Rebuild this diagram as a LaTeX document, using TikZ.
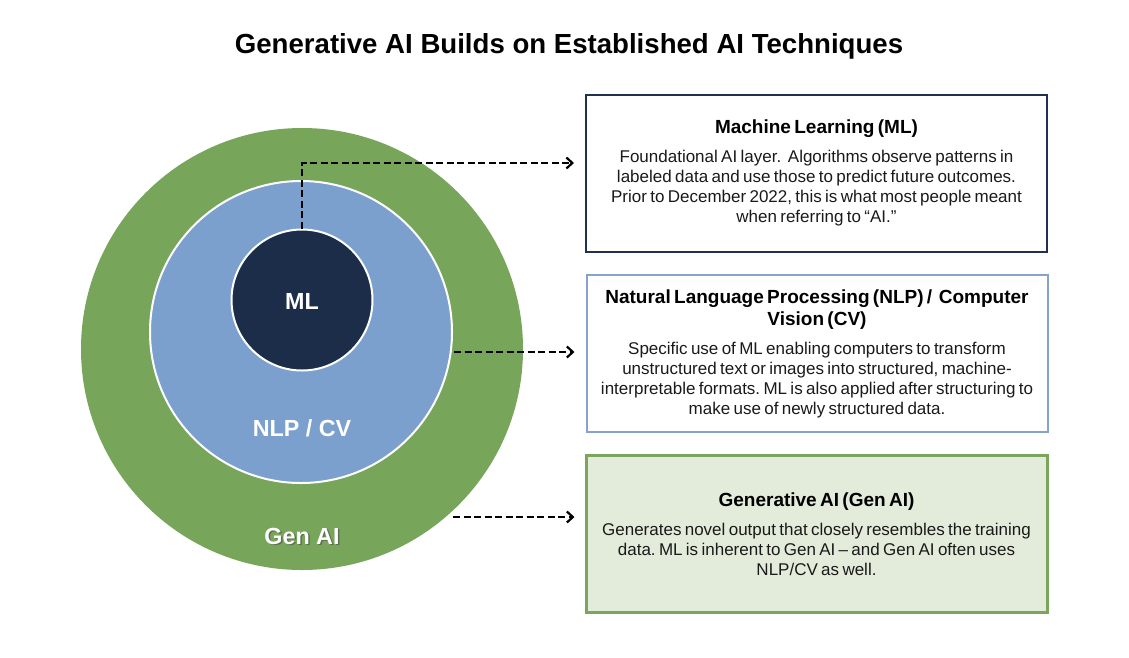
\documentclass[tikz,border=0pt]{standalone}
\usepackage{fontspec}
\setmainfont{Liberation Sans}
\usetikzlibrary{arrows.meta,calc}
\definecolor{gengreen}{HTML}{77A55A}
\definecolor{nlpblue}{HTML}{7BA0CD}
\definecolor{mlnavy}{HTML}{1C2D4A}
\definecolor{boxnavy}{HTML}{1F3050}
\definecolor{boxblue}{HTML}{85A3CC}
\definecolor{boxgreenfill}{HTML}{E3ECDA}
\definecolor{boxgreen}{HTML}{7BA55D}
\definecolor{bodytext}{HTML}{1A1A1A}
\frenchspacing
\tikzset{
  ring/.style={circle, inner sep=0pt, draw=white, line width=2pt},
  ringlabel/.style={text=white, font=\fontsize{23.3}{26}\selectfont\bfseries},
  infobox/.style={rectangle, line width=2pt, minimum width=461pt, text width=458pt, inner sep=0pt, align=center, text=bodytext},
  arr/.style={-{Straight Barb[length=6pt,width=11pt,line width=2.2pt]}, line width=2.7pt, dash pattern=on 7pt off 3.5pt, black},
}
\newcommand{\boxtitle}[1]{{\fontsize{19}{22}\selectfont\bfseries\color{black}#1\par}\vspace{9pt}}
\newcommand{\boxbody}{\fontsize{17}{20}\selectfont}
\begin{document}
\begin{tikzpicture}[x=1pt,y=-1pt]
\useasboundingbox[fill=white] (0,0) rectangle (1129,657);
% title
\node[font=\fontsize{27.6}{30}\selectfont\bfseries] (title) at (569,46) {Generative AI Builds on Established AI Techniques};
% circles
\node[circle, inner sep=0pt, fill=gengreen, minimum size=442pt] (gen) at (302,349) {};
\node[ring, fill=nlpblue, minimum size=302pt] (nlp) at (301,332) {};
\node[ring, fill=mlnavy, minimum size=141pt] (ml) at (302,300) {};
% labels
\node[ringlabel] (mllab) at (302,301) {ML};
\node[ringlabel] (nlplab) at (302,428) {NLP / CV};
\node[text=black!70, font=\fontsize{23.3}{26}\selectfont\bfseries, opacity=0.6] (genshadow) at (303.5,537.5) {Gen AI};
\node[ringlabel] (genlab) at (302,536) {Gen AI};
% boxes
\node[infobox, draw=boxnavy, fill=white, minimum height=157pt] (box1) at (816.5,173) {%
  \boxtitle{Machine Learning (ML)}%
  \boxbody Foundational AI layer.\ \ Algorithms observe patterns in\\
  labeled data and use those to predict future outcomes.\\
  Prior to December 2022, this is what most people meant\\
  when referring to “AI.”\par};
\node[infobox, draw=boxblue, fill=white, minimum height=157pt] (box2) at (817,353.5) {%
  \boxtitle{Natural Language Processing (NLP) /\ \ Computer\\ Vision (CV)}%
  \boxbody Specific use of ML enabling computers to transform\\
  unstructured text or images into structured, machine-\\
  interpretable formats. ML is also applied after structuring to\\
  make use of newly structured data.\par};
\node[infobox, draw=boxgreen, line width=3pt, fill=boxgreenfill, minimum height=157pt] (box3) at (816.5,534) {%
  \boxtitle{Generative AI (Gen AI)}%
  \boxbody Generates novel output that closely resembles the training\\
  data. ML is inherent to Gen AI -- and Gen AI often uses\\
  NLP/CV as well.\par};
% arrows
\coordinate (a2) at (454,352);
\coordinate (a3) at (453,517);
\draw[arr] (ml.north) |- ([xshift=-11pt,yshift=10pt]box1.west);
\draw[arr] (a2) -- ([xshift=-11pt]a2 -| box2.west);
\draw[arr] (a3) -- ([xshift=-10pt]a3 -| box3.west);
\end{tikzpicture}
\end{document}
